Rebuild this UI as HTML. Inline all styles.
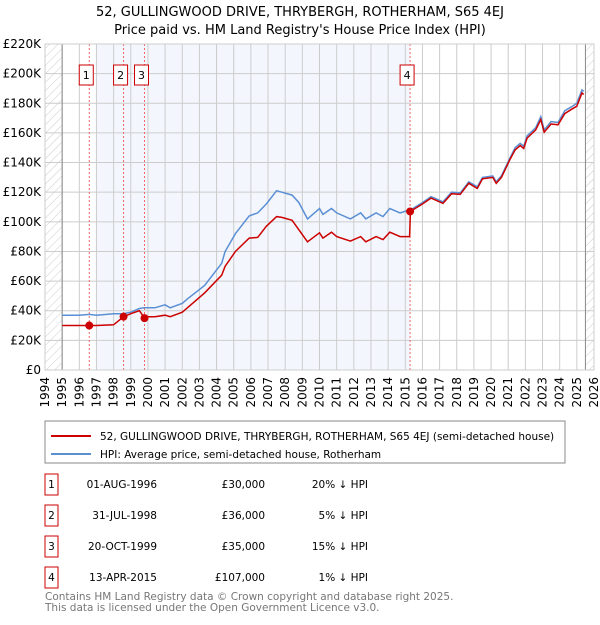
<!DOCTYPE html>
<html><head><meta charset="utf-8"><style>
body{margin:0;background:#fff;font-family:"Liberation Sans","DejaVu Sans",sans-serif;}
svg text{font-family:"DejaVu Sans","Liberation Sans",sans-serif;}
</style></head><body>
<svg id="c" width="600" height="620" viewBox="0 0 600 620">
<defs><pattern id="h" width="6" height="6" patternUnits="userSpaceOnUse" patternTransform="rotate(45)"><line x1="0" y1="0" x2="0" y2="6" stroke="#ccc" stroke-width="1"/></pattern></defs>
<text x="300" y="16" text-anchor="middle" font-size="13">52, GULLINGWOOD DRIVE, THRYBERGH, ROTHERHAM, S65 4EJ</text>
<text x="300" y="34" text-anchor="middle" font-size="13">Price paid vs. HM Land Registry's House Price Index (HPI)</text>
<g id="plot"></g>
<rect x="45" y="421" width="520" height="42" fill="#fff" stroke="#888"/>
<line x1="51" y1="436" x2="91" y2="436" stroke="#cc0000" stroke-width="2"/>
<text x="100" y="440" font-size="10.5">52, GULLINGWOOD DRIVE, THRYBERGH, ROTHERHAM, S65 4EJ (semi-detached house)</text>
<line x1="51" y1="454" x2="91" y2="454" stroke="#5b8fd4" stroke-width="2"/>
<text x="100" y="458" font-size="10.5">HPI: Average price, semi-detached house, Rotherham</text>
<g id="tbl" font-size="10.5"></g>
<text x="45" y="600" font-size="10.5" fill="#777">Contains HM Land Registry data © Crown copyright and database right 2025.</text>
<text x="45" y="611" font-size="10.5" fill="#777">This data is licensed under the Open Government Licence v3.0.</text>
</svg>
<script>
const dates=[1995,1996,1996.58,1997,1998,1998.58,1999,1999.5,1999.8,2000,2000.4,2001,2001.3,2002,2002.3,2003.3,2004.3,2004.5,2005.1,2005.9,2006.4,2006.9,2007.5,2007.8,2008.4,2008.8,2009.3,2010,2010.2,2010.7,2011,2011.8,2012.4,2012.7,2013.3,2013.7,2014.1,2014.7,2015.25,2015.3,2016,2016.5,2017.2,2017.7,2018.2,2018.7,2019.2,2019.5,2020.1,2020.3,2020.6,2021.1,2021.4,2021.7,2021.9,2022.1,2022.6,2022.9,2023.1,2023.5,2023.9,2024.3,2024.7,2025,2025.3,2025.4];
const hpi=[37,37,37.5,37,38,38,39,41.5,42,42,42,44,42,45,48,57,72,80,92,104,106,112,121,120,118,113,102,109,105,109,106,102,106,102,106,103.5,109,106,108,108,113,117,113.5,120,119.5,127,123.6,130,131,127,131,143,150,153,151,158,163.5,171,162,167.6,167,175,177.7,180,189,188];
const price=[30,30,30,30,30.5,36,38,40,35,36,36,37,36,39,42,52,64,70,80,89,89.5,97,103.5,103,101,94.6,86.5,92.6,89,93,90,87,90,86.5,90,88,93,90,90,107,112,116,112.5,119,118.5,126,122.5,129,130,126,130,142,148.5,151.5,149.5,156.5,162,169,160.5,166,165.5,173,176,178,187,186];
const saleLabels=["1","2","3","4"];
const saleDates=[1996.58,1998.58,1999.8,2015.28];
const saleValues=[30,36,35,107];
const saleDateText=["01-AUG-1996","31-JUL-1998","20-OCT-1999","13-APR-2015"];
const salePriceText=["£30,000","£36,000","£35,000","£107,000"];
const saleHpiText=["20% ↓ HPI","5% ↓ HPI","15% ↓ HPI","1% ↓ HPI"];
const yTicks=[0,20,40,60,80,100,120,140,160,180,200,220];
const xYears=[];for(let y=1994;y<=2026;y++)xYears.push(y);

const NS="http://www.w3.org/2000/svg";
const X=y=>45+(y-1994)*(549/32);
const Y=v=>370-v/220*326;
function mk(p,t,a){const e=document.createElementNS(NS,t);for(const k in a)e.setAttribute(k,a[k]);p.appendChild(e);return e;}
const g=document.getElementById('plot');
let e;
e=mk(g,'rect',{x:X(1997),y:44,width:X(2015.28)-X(1997),height:326,fill:'#eef3fc',opacity:0.7});


e=mk(g,'rect',{x:45,y:44,width:X(1995)-45,height:326,fill:'url(#h)'});


e=mk(g,'rect',{x:X(2025.5),y:44,width:594-X(2025.5),height:326,fill:'url(#h)'});


yTicks.forEach(t=>{
 e=mk(g,'line',{x1:45,x2:594,y1:Y(t),y2:Y(t),stroke:'#ccc'});
 
 
 e=mk(g,'text',{x:41,y:Y(t)+4,'text-anchor':'end','font-size':12});
 e.textContent=t===0?'£0':'£'+t+'K';
 
 
});
xYears.forEach(yr=>{
 e=mk(g,'line',{x1:X(yr),x2:X(yr),y1:44,y2:370,stroke:'#ccc'});
 
 
 e=mk(g,'text',{x:0,y:0,'text-anchor':'end','font-size':12,transform:`translate(${X(yr)+4},377) rotate(-90)`});
 e.textContent=yr;
 
 
});
[1995,2025.5].forEach(yr=>{
 e=mk(g,'line',{x1:X(yr),x2:X(yr),y1:44,y2:370,stroke:'#888'});
 
 
});
saleDates.forEach((d,i)=>{
 e=mk(g,'line',{x1:X(d),x2:X(d),y1:44,y2:370,stroke:'#e66','stroke-dasharray':'2,2'});
 
 
 e=mk(g,'rect',{x:X(d)-10,y:65,width:14,height:20,fill:'#fff',stroke:'#c00'});
 
 
 e=mk(g,'text',{x:X(d)-3,y:79,'text-anchor':'middle','font-size':11});
 e.textContent=saleLabels[i];
 
 
});
const pts=a=>dates.map((d,i)=>X(d).toFixed(1)+','+Y(a[i]).toFixed(1)).join(' ');
e=mk(g,'polyline',{points:pts(hpi),fill:'none',stroke:'#5b8fd4','stroke-width':1.5});


e=mk(g,'polyline',{points:pts(price),fill:'none',stroke:'#cc0000','stroke-width':1.5});


saleDates.forEach((d,i)=>{
 e=mk(g,'circle',{cx:X(d),cy:Y(saleValues[i]),r:4,fill:'#cc0000'});
 
 
});
e=mk(g,'rect',{x:45,y:44,width:549,height:326,fill:'none',stroke:'#ccc'});


const t=document.getElementById('tbl');
saleLabels.forEach((l,i)=>{
 const cy=484+i*31;
 e=mk(t,'rect',{x:45,y:cy-10,width:13,height:21,fill:'#fff',stroke:'#c00'});
 
 
 e=mk(t,'text',{x:51.5,y:cy+4,'text-anchor':'middle'});e.textContent=l;
 
 
 e=mk(t,'text',{x:157,y:cy+4,'text-anchor':'end'});e.textContent=saleDateText[i];
 
 
 e=mk(t,'text',{x:265,y:cy+4,'text-anchor':'end'});e.textContent=salePriceText[i];
 
 
 e=mk(t,'text',{x:368,y:cy+4,'text-anchor':'end'});e.textContent=saleHpiText[i];
 
 
});
</script>
</body></html>
